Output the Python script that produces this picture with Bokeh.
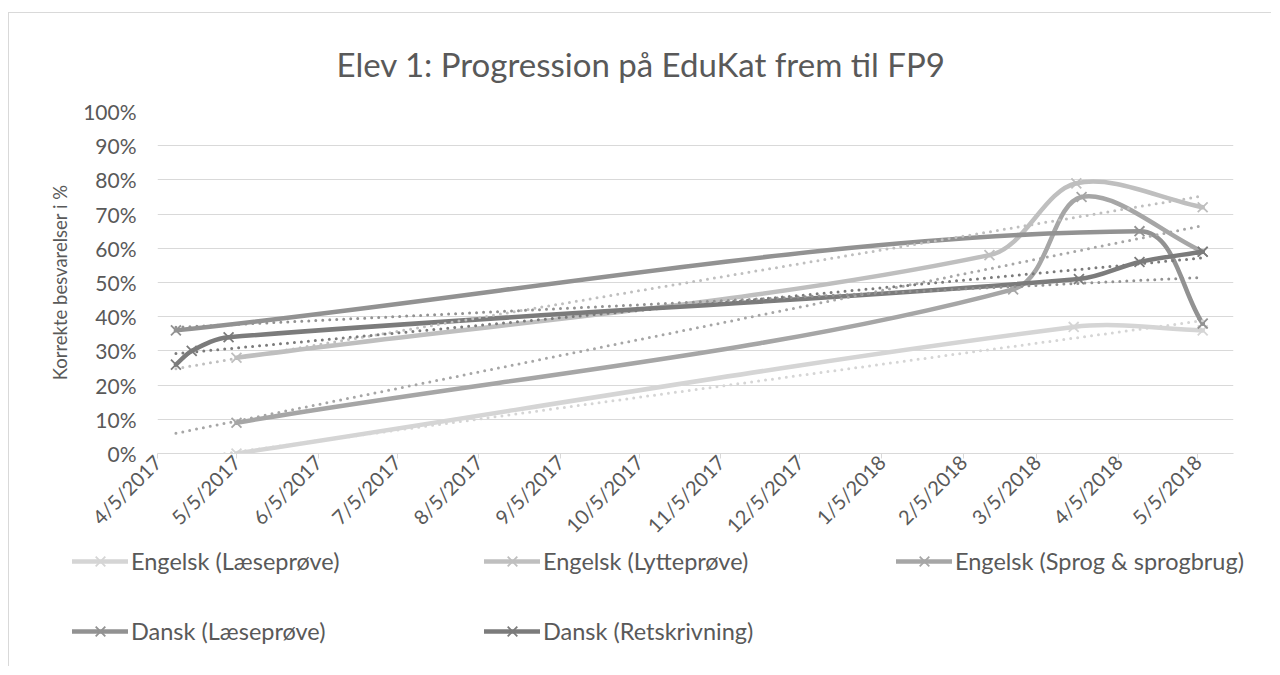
import math
from datetime import datetime
import numpy as np
from bokeh.plotting import figure
from bokeh.models import (Range1d, FixedTicker, PrintfTickFormatter, Legend, LegendItem)
from bokeh.embed import file_html
from bokeh.resources import INLINE

# ---------------- data ----------------
title_text = "Elev 1: Progression på EduKat frem til FP9"
y_title = "Korrekte besvarelser i %"

series_names = ["Engelsk (Læseprøve)", "Engelsk (Lytteprøve)", "Engelsk (Sprog & sprogbrug)",
                "Dansk (Læseprøve)", "Dansk (Retskrivning)"]

eng_laese_dates = ["2017-05-05", "2018-03-19", "2018-05-07"]
eng_laese_vals = [0, 37, 36]

eng_lytte_dates = ["2017-05-05", "2018-02-15", "2018-03-20", "2018-05-07"]
eng_lytte_vals = [28, 58, 79, 72]

eng_sprog_dates = ["2017-05-05", "2018-02-24", "2018-03-22", "2018-05-07"]
eng_sprog_vals = [9, 48, 75, 59]

dansk_laese_dates = ["2017-04-12", "2018-04-13", "2018-05-07"]
dansk_laese_vals = [36, 65, 38]

dansk_ret_dates = ["2017-04-12", "2017-04-18", "2017-05-02", "2018-03-21", "2018-04-13", "2018-05-07"]
dansk_ret_vals = [26, 30, 34, 51, 56, 59]

x_tick_labels = ["4/5/2017", "5/5/2017", "6/5/2017", "7/5/2017", "8/5/2017", "9/5/2017",
                 "10/5/2017", "11/5/2017", "12/5/2017", "1/5/2018", "2/5/2018", "3/5/2018",
                 "4/5/2018", "5/5/2018"]
y_ticks = [0, 10, 20, 30, 40, 50, 60, 70, 80, 90, 100]

colors = ["#d5d5d5", "#bfbfbf", "#a6a6a6", "#929292", "#7b7b7b"]

# ---------------- helpers ----------------
EPOCH = datetime(1970, 1, 1)
DAY_MS = 86400000


def to_ms(s):
    return int((datetime.strptime(s, "%Y-%m-%d") - EPOCH).total_seconds() * 1000)


def label_to_ms(s):
    return int((datetime.strptime(s, "%m/%d/%Y") - EPOCH).total_seconds() * 1000)


PX_PER_MS = 2.633 / DAY_MS
PX_PER_PCT = 3.44


def smooth_segments(xs, ys):
    P = np.column_stack([np.array(xs, float) * PX_PER_MS, np.array(ys, float) * PX_PER_PCT])
    n = len(P)
    out = {k: [] for k in ["x0", "y0", "x1", "y1", "cx0", "cy0", "cx1", "cy1"]}
    for i in range(n - 1):
        a = i - 1 if i > 0 else i
        b = i + 2 if i + 2 < n else i + 1
        d_prev = np.hypot(*(P[i] - P[a]))
        d = np.hypot(*(P[i + 1] - P[i]))
        d_next = np.hypot(*(P[b] - P[i + 1]))
        f1 = d / (d_prev + d) / 3.0
        f2 = d / (d + d_next) / 3.0
        c1 = P[i] + (P[i + 1] - P[a]) * f1
        c2 = P[i + 1] - (P[b] - P[i]) * f2
        out["x0"].append(P[i][0] / PX_PER_MS); out["y0"].append(P[i][1] / PX_PER_PCT)
        out["x1"].append(P[i + 1][0] / PX_PER_MS); out["y1"].append(P[i + 1][1] / PX_PER_PCT)
        out["cx0"].append(c1[0] / PX_PER_MS); out["cy0"].append(c1[1] / PX_PER_PCT)
        out["cx1"].append(c2[0] / PX_PER_MS); out["cy1"].append(c2[1] / PX_PER_PCT)
    return out


series = [
    (eng_laese_dates, eng_laese_vals),
    (eng_lytte_dates, eng_lytte_vals),
    (eng_sprog_dates, eng_sprog_vals),
    (dansk_laese_dates, dansk_laese_vals),
    (dansk_ret_dates, dansk_ret_vals),
]

tick_ms = [label_to_ms(t) for t in x_tick_labels]
x_start = tick_ms[0]
x_end = tick_ms[-1] + 13.7 * DAY_MS

all_ms = [to_ms(d) for ds, _ in series for d in ds]
trend_x0, trend_x1 = min(all_ms), max(all_ms)

FONT = "Lato"
TXT = "#595959"
BORDER = "1px solid #d9d9d9"
W = 1263

p = figure(width=W, height=535, output_backend="svg", toolbar_location=None,
           x_range=Range1d(x_start, x_end), y_range=Range1d(0, 100),
           min_border_left=148, min_border_right=39, min_border_top=97, min_border_bottom=94,
           title=title_text)
p.margin = (12, 0, 0, 8)
p.styles = {"border-left": BORDER, "border-top": BORDER}
p.outline_line_color = None
p.background_fill_color = "white"
p.border_fill_color = "white"

p.title.align = "left"
p.title.offset = 179
p.title.standoff = 56
p.title.text_font = FONT
p.title.text_font_size = "33px"
p.title.text_font_style = "normal"
p.title.text_color = TXT

p.xgrid.visible = False
p.ygrid.ticker = FixedTicker(ticks=y_ticks)
p.ygrid.grid_line_color = "#d9d9d9"
p.ygrid.grid_line_width = 1

yax = p.yaxis[0]
yax.ticker = FixedTicker(ticks=y_ticks)
yax.formatter = PrintfTickFormatter(format="%d%%")
yax.axis_line_color = None
yax.major_tick_line_color = None
yax.minor_tick_line_color = None
yax.major_label_standoff = 15
yax.major_label_text_font = FONT
yax.major_label_text_font_size = "21px"
yax.major_label_text_color = TXT
yax.axis_label = y_title
yax.axis_label_standoff = 9
yax.axis_label_text_font = FONT
yax.axis_label_text_font_size = "18.5px"
yax.axis_label_text_font_style = "normal"
yax.axis_label_text_color = TXT

xax = p.xaxis[0]
xax.ticker = FixedTicker(ticks=tick_ms)
xax.major_label_overrides = {m: lab for m, lab in zip(tick_ms, x_tick_labels)}
xax.axis_line_color = "#d9d9d9"
xax.major_tick_line_color = "#d9d9d9"
xax.major_tick_out = 5
xax.major_tick_in = 0
xax.minor_tick_line_color = None
xax.major_label_orientation = math.pi / 4
xax.major_label_standoff = 0
xax.major_label_text_font = FONT
xax.major_label_text_font_size = "20px"
xax.major_label_text_color = TXT

line_w = 4.5
for (ds, vs), col in zip(series, colors):
    xs = [to_ms(d) for d in ds]
    seg = smooth_segments(xs, vs)
    p.bezier(x0=seg["x0"], y0=seg["y0"], x1=seg["x1"], y1=seg["y1"],
             cx0=seg["cx0"], cy0=seg["cy0"], cx1=seg["cx1"], cy1=seg["cy1"],
             line_color=col, line_width=line_w, line_cap="round")
    p.scatter(x=xs, y=vs, marker="x", size=14, line_color=col, line_width=1.8)

# linear trendlines (least squares on the data, like the source chart)
for (ds, vs), col in zip(series, colors):
    xd = np.array([to_ms(d) for d in ds], float) / DAY_MS
    k, c = np.polyfit(xd, np.array(vs, float), 1)
    tx = [trend_x0, trend_x1]
    ty = [k * (trend_x0 / DAY_MS) + c, k * (trend_x1 / DAY_MS) + c]
    p.line(x=tx, y=ty, line_color=col, line_width=3, line_dash="0 7", line_cap="round")

# ---------------- legend strip (second root, full-width frame) ----------------
lf = figure(width=W, height=119, output_backend="svg", toolbar_location=None,
            x_range=Range1d(0, 1), y_range=Range1d(0, 1), min_border=0,
            x_axis_location=None, y_axis_location=None)
lf.margin = (0, 0, 0, 8)
lf.styles = {"border-left": BORDER}
lf.grid.visible = False
lf.outline_line_color = None
lf.background_fill_color = "white"
lf.border_fill_color = "white"

items = []
for name, col in zip(series_names, colors):
    ln = lf.line(x=[-5, -4], y=[-5, -5], line_color=col, line_width=line_w, line_cap="round")
    sc = lf.scatter(x=[-5], y=[-5], marker="x", size=14, line_color=col, line_width=1.8)
    items.append(LegendItem(label=name, renderers=[ln, sc]))

legend = Legend(items=items, location=(63, 18), orientation="horizontal", ncols=3,
                spacing=36, glyph_width=56, glyph_height=34, label_width=317, label_height=34,
                label_standoff=3, padding=0, margin=0, border_line_color=None,
                background_fill_alpha=0, label_text_font=FONT, label_text_font_size="23.5px",
                label_text_color=TXT)
lf.add_layout(legend)

open("out.html", "w").write(file_html([p, lf], INLINE))
